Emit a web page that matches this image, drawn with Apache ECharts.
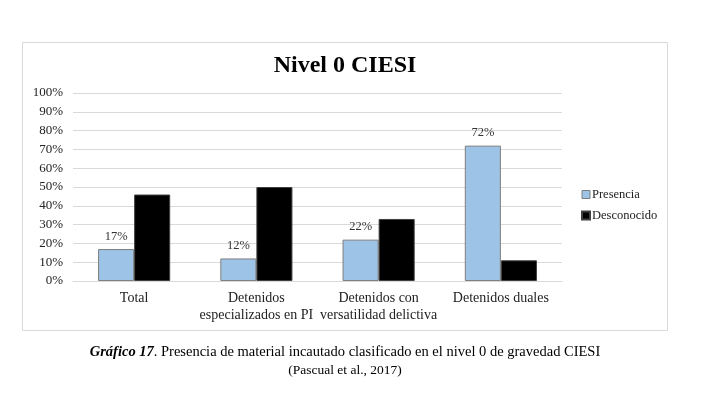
<!DOCTYPE html>
<html>
<head>
<meta charset="utf-8">
<script src="https://cdn.jsdelivr.net/npm/echarts@6/dist/echarts.min.js"></script>
<style>html,body{margin:0;padding:0;background:#fff}#c{width:710px;height:395px}</style>
</head>
<body>
<div id="c"></div>
<script>
const categories = ['Total', 'Detenidos\nespecializados en PI', 'Detenidos con\nversatilidad delictiva', 'Detenidos duales'];
const presencia = [17, 12, 22, 72];
const desconocido = [46, 50, 33, 11];
const yTicks = [0, 10, 20, 30, 40, 50, 60, 70, 80, 90, 100];

const serif = '"Liberation Serif", "DejaVu Serif", serif';
const chart = echarts.init(document.getElementById('c'));
chart.setOption({
  animation: false,
  textStyle: { fontFamily: serif },
  title: [
    { text: 'Nivel 0 CIESI', left: 340, top: 49, textAlign: 'center', textStyle: { fontFamily: serif, fontSize: 24, fontWeight: 'bold', color: '#000' } },
    {
      text: '{b|Gráfico 17}{n|. Presencia de material incautado clasificado en el nivel 0 de gravedad CIESI}',
      left: 340, top: 340, textAlign: 'center',
      textStyle: {
        fontFamily: serif, fontWeight: 'normal',
        rich: {
          b: { fontFamily: serif, fontSize: 14.5, fontWeight: 'bold', fontStyle: 'italic', color: '#000' },
          n: { fontFamily: serif, fontSize: 14.5, fontWeight: 'normal', color: '#000' }
        }
      }
    },
    {
      text: '(Pascual et al., 2017)', left: 340, top: 358, textAlign: 'center',
      textStyle: { fontFamily: serif, fontSize: 13.5, fontWeight: 'normal', color: '#000' }
    }
  ],
  graphic: [{ type: 'rect', shape: { x: 22.5, y: 42.5, width: 645, height: 288 }, style: { fill: 'none', stroke: '#d9d9d9', lineWidth: 1 }, silent: true }],
  legend: {
    orient: 'vertical', left: 576, top: 183, itemWidth: 8, itemHeight: 8, itemGap: 8,
    textStyle: { fontFamily: serif, fontSize: 12.5, color: '#222', padding: [0, 0, 0, -3] },
    data: [
      { name: 'Presencia', icon: 'rect', itemStyle: { borderColor: '#7f7f7f', borderWidth: 1 } },
      { name: 'Desconocido', icon: 'rect' }
    ]
  },
  grid: { left: 73, right: 148, top: 93, bottom: 114, containLabel: false },
  xAxis: {
    type: 'category', data: categories,
    axisLine: { lineStyle: { color: '#d9d9d9' } }, axisTick: { show: false },
    axisLabel: { fontFamily: serif, fontSize: 14, color: '#222', margin: 9, lineHeight: 17, interval: 0 }
  },
  yAxis: {
    type: 'value', min: 0, max: 100, interval: 10,
    axisLabel: { fontFamily: serif, fontSize: 13, color: '#222', formatter: v => yTicks.includes(v) ? v + '%' : '', margin: 10 },
    splitLine: { lineStyle: { color: '#d9d9d9' } }, axisLine: { show: false }, axisTick: { show: false }
  },
  series: [
    { name: 'Presencia', type: 'bar', data: presencia, barGap: '0%', barCategoryGap: '41%',
      itemStyle: { color: '#9dc3e6', borderColor: '#7f7f7f', borderWidth: 1 },
      label: { show: true, position: 'top', formatter: '{c}%', fontFamily: serif, fontSize: 12.5, color: '#333', distance: 6 } },
    { name: 'Desconocido', type: 'bar', data: desconocido,
      itemStyle: { color: '#000', borderColor: '#404040', borderWidth: 1 } }
  ]
});
</script>
</body>
</html>
